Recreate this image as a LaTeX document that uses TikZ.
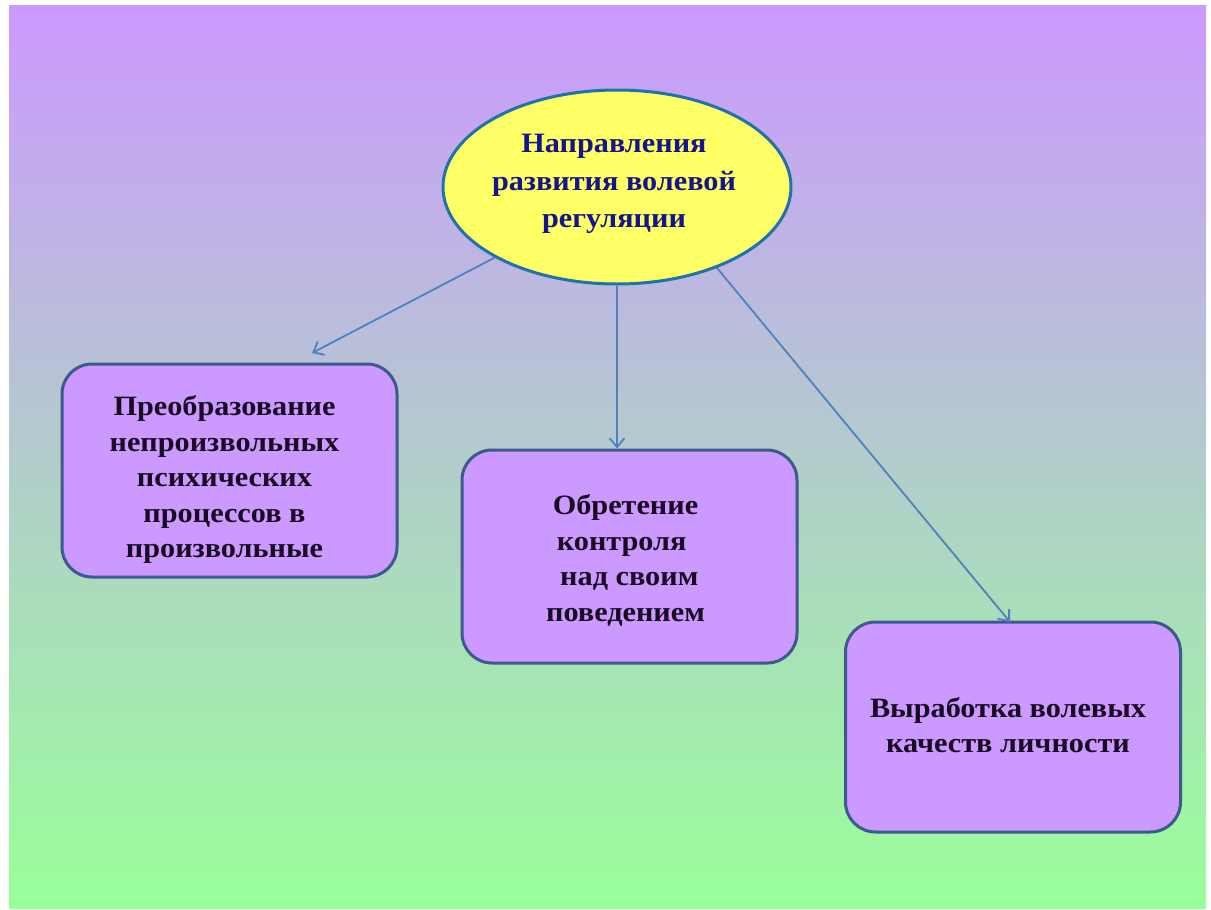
\documentclass[tikz,border=0pt]{standalone}
\usepackage{fontspec}
\setmainfont[FakeStretch=1.08]{Liberation Serif}
\usetikzlibrary{arrows.meta,shapes.geometric}
\definecolor{bgtop}{RGB}{204,153,255}
\definecolor{bgbot}{RGB}{153,255,153}
\definecolor{boxfill}{RGB}{204,153,255}
\definecolor{boxline}{RGB}{60,90,140}
\definecolor{ellfill}{RGB}{255,255,102}
\definecolor{ellline}{RGB}{30,115,170}
\definecolor{arrowc}{RGB}{79,129,189}
\definecolor{titlec}{RGB}{20,20,140}
\definecolor{textc}{RGB}{25,10,35}
\tikzset{
  box/.style={rectangle, rounded corners=30pt, draw=boxline, line width=3pt,
    fill=boxfill, minimum width=335pt, minimum height=213pt, inner sep=0pt},
  boxtext/.style={align=center, text=textc,
    font=\fontsize{28}{35.5}\selectfont\bfseries, inner sep=0pt},
  bubble/.style={ellipse, draw=ellline, line width=3pt, fill=ellfill,
    minimum width=348pt, minimum height=194pt, inner sep=0pt},
  bubbletext/.style={align=center, text=titlec,
    font=\fontsize{28}{37.5}\selectfont\bfseries, inner sep=0pt},
  conn/.style={draw=arrowc, line width=1.8pt,
    -{Straight Barb[length=9pt,width=15pt,line width=1.8pt]}}
}
\begin{document}
\begin{tikzpicture}[x=1pt,y=-1pt]
\useasboundingbox (0,0) rectangle (1211,910);
\shade[top color=bgtop,bottom color=bgbot] (9,5) rectangle (1206,908);
\node[bubble, label={[bubbletext, xshift=-3pt, yshift=3pt]center:{Направления\\развития волевой\\регуляции}}] (ell) at (617,187) {};
\node[box, label={[boxtext, xshift=-5pt, yshift=-9pt]center:{Преобразование\\непроизвольных\\психических\\процессов в\\произвольные}}] (b1) at (229.5,470.5) {};
\node[box, label={[boxtext, xshift=-4pt, yshift=-4pt]center:{Обретение\\контроля\hphantom{ }\\\hphantom{ }над своим\\поведением}}] (b2) at (629.5,556.5) {};
\node[box, minimum height=210pt, label={[boxtext, xshift=-5pt, yshift=2pt]center:{Выработка волевых\\качеств личности}}] (b3) at (1013,727) {};
\coordinate (a1end) at (312,353);
\coordinate (a3end) at (1010,622);
\draw[conn] (ell.210) -- (a1end);
\draw[conn] (ell.south) -- (ell.south |- b2.north);
\draw[conn] (ell.-39) -- (a3end);
\end{tikzpicture}
\end{document}
